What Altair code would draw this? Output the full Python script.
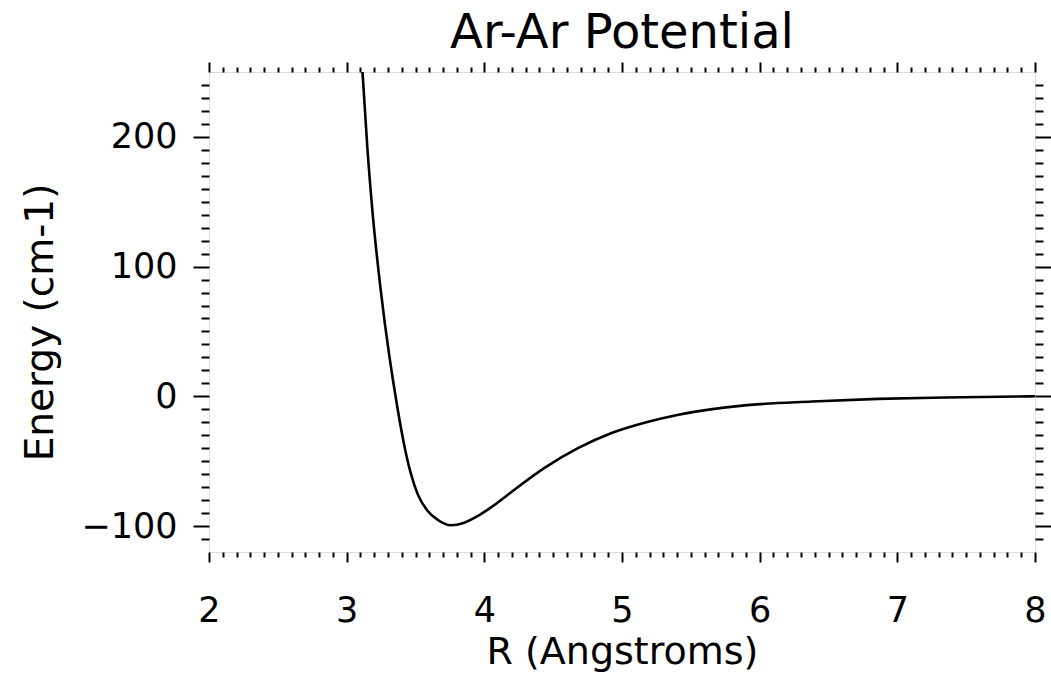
import altair as alt
import pandas as pd

# Values
r_values = [3.115, 3.15, 3.187, 3.245, 3.31, 3.335, 3.369, 3.42, 3.467, 3.515,
            3.587, 3.66, 3.757, 3.854, 3.95, 4.07, 4.19, 4.44, 4.68,
            4.92, 5.17, 5.41, 5.89, 6.38, 6.86, 7.35, 7.74, 8.0]
e_values = [250, 192, 143, 84, 31, 13.4, -9, -38.6, -59.8, -75.2,
            -88.2, -95.1, -99.4, -97.4, -92.4, -84.0, -74.3, -55.0, -40.0,
            -28.5, -20.2, -14.2, -7.0, -4.0, -2.0, -0.9, -0.3, 0.0]

x_major = [2, 3, 4, 5, 6, 7, 8]
x_minor = [round(2 + 0.1 * i, 1) for i in range(1, 60) if i % 10]
y_major = [-100, 0, 100, 200]
y_minor = [v for v in range(-110, 250, 10) if v % 100]

df = pd.DataFrame({"R": r_values, "E": e_values})

FONT = "DejaVu Sans"
xs = alt.Scale(domain=[2, 8], nice=False, zero=False)
ys = alt.Scale(domain=[-120, 250], nice=False, zero=False)

base = alt.Chart(df)

line = base.mark_line(color="black", strokeWidth=2.6, interpolate="monotone", clip=True).encode(
    x=alt.X("R:Q", scale=xs, axis=alt.Axis(
        orient="bottom", values=x_major, tickSize=10, labelPadding=31, format="d",
        labelFont=FONT, labelFontSize=35, labelColor="black", labelFlush=False,
        tickColor="black", tickWidth=2,
        grid=False, domain=False, title="R (Angstroms)", titleFontSize=38,
        titleFont=FONT, titleFontWeight="normal", titleColor="black",
        titleBaseline="alphabetic", titleX=413, titleY=111)),
    y=alt.Y("E:Q", scale=ys, axis=alt.Axis(
        orient="left", values=y_major, tickSize=16, labelPadding=16, format="d",
        labelFont=FONT, labelFontSize=35, labelColor="black", labelFlush=False,
        tickColor="black", tickWidth=2,
        grid=False, domain=False, title="Energy (cm-1)", titleFontSize=39,
        titleFont=FONT, titleFontWeight="normal", titleColor="black",
        titleAngle=270, titleBaseline="alphabetic", titleX=-157, titleY=250)),
)


def ghost(xorient, xvals, xsize, yorient, yvals, ysize):
    return base.mark_point(opacity=0).encode(
        x=alt.X("R:Q", axis=alt.Axis(orient=xorient, values=xvals, tickSize=xsize,
                                     tickColor="black", tickWidth=2,
                                     labels=False, title=None, domain=False, grid=False)),
        y=alt.Y("E:Q", axis=alt.Axis(orient=yorient, values=yvals, tickSize=ysize,
                                     tickColor="black", tickWidth=2,
                                     labels=False, title=None, domain=False, grid=False)),
    )


layers = [
    line,
    ghost("bottom", x_minor, 5, "left", y_minor, 8),
    ghost("top", x_major, 10, "right", y_major, 16),
    ghost("top", x_minor, 5, "right", y_minor, 8),
]

chart = alt.layer(*layers).resolve_axis(
    x="independent", y="independent"
).properties(
    width=826,
    height=480,
    padding={"left": 209, "top": 72, "right": 16, "bottom": 123},
    autosize=alt.AutoSizeParams(type="none"),
    title=alt.TitleParams("Ar-Ar Potential", fontSize=48, font=FONT, fontWeight="normal",
                          color="black", anchor="middle", offset=3, frame="group"),
).configure_view(
    stroke="black", strokeWidth=3
).configure(background="white")

chart.save("out.html", embed_options={"renderer": "svg", "actions": False})
